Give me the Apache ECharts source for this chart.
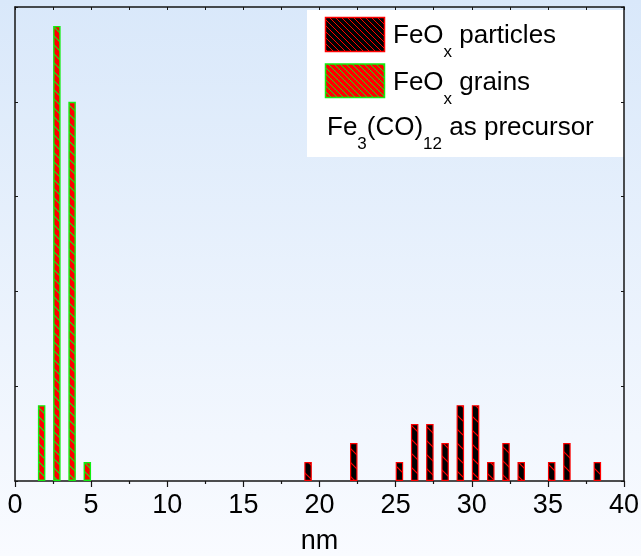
<!DOCTYPE html>
<html><head><meta charset="utf-8">
<script src="https://cdn.jsdelivr.net/npm/echarts@6/dist/echarts.min.js"></script>
<style>
html,body{margin:0;padding:0;}
body{background:linear-gradient(to bottom,#d9e8fa 0%,#f9fbff 100%);width:641px;height:556px;overflow:hidden}
#c{width:641px;height:556px}
</style></head><body><div id="c"></div>
<script>
// ---- data ----
const grainSizes = [1.75, 2.75, 3.75, 4.75];
const grainCounts = [4, 24, 20, 1];
const particleSizes = [19.25, 22.25, 25.25, 26.25, 27.25, 28.25, 29.25, 30.25, 31.25, 32.25, 33.25, 35.25, 36.25, 38.25];
const particleCounts = [1, 2, 1, 3, 3, 2, 4, 4, 1, 2, 1, 1, 2, 1];
const xTickLabels = ['0', '5', '10', '15', '20', '25', '30', '35', '40'];
const xName = 'nm';

const F = 'Liberation Sans, Arial, sans-serif';
function hatch(size, bg, fg, lw) {
  const c = document.createElement('canvas');
  c.width = size; c.height = size;
  const g = c.getContext('2d');
  g.fillStyle = bg; g.fillRect(0, 0, size, size);
  g.strokeStyle = fg; g.lineWidth = lw;
  g.beginPath();
  for (const o of [-size, 0, size]) { g.moveTo(o - 1, -1); g.lineTo(o + size + 1, size + 1); }
  g.stroke();
  return { image: c, repeat: 'repeat' };
}
const RED = '#ff0000', GREEN = '#11ee11', AX = '#151515';
const partFill = hatch(14, '#000000', RED, 1.2);
const grainFill = hatch(9, RED, GREEN, 1.2);
const partLeg = hatch(6, '#000000', RED, 1);
const grainLeg = hatch(6, RED, GREEN, 1);

const richS = {
  a: { fontSize: 26, fontFamily: F, lineHeight: 30, verticalAlign: 'top', color: '#000' },
  s: { fontSize: 17, fontFamily: F, lineHeight: 17, verticalAlign: 'top', padding: [21, 0, 0, 0], color: '#000' }
};

const baseX = {
  type: 'value', min: 0, max: 40, interval: 5,
  axisLine: { show: true, onZero: false, lineStyle: { color: AX, width: 1.5 } },
  splitLine: { show: false }, minorSplitLine: { show: false }
};
const baseY = {
  type: 'value', min: 0, max: 25, interval: 5,
  axisLine: { show: true, onZero: false, lineStyle: { color: AX, width: 1.5 } },
  axisTick: { show: true, inside: true, length: 3, lineStyle: { color: AX, width: 1 } },
  axisLabel: { show: false },
  splitLine: { show: false }
};

const chart = echarts.init(document.getElementById('c'), null, { renderer: 'canvas' });
chart.setOption({
  animation: false,
  backgroundColor: 'transparent',
  grid: { left: 15, top: 7, width: 609, height: 474, show: false, containLabel: false, outerBoundsMode: 'none' },
  xAxis: [
    Object.assign({}, baseX, {
      position: 'bottom',
      axisTick: { show: true, inside: false, length: 6, lineStyle: { color: AX, width: 1.2 } },
      minorTick: { show: true, splitNumber: 2, length: 3, lineStyle: { color: AX, width: 1.2 } },
      axisLabel: { color: '#000', fontSize: 27, fontFamily: F, margin: 11,
        formatter: v => xTickLabels[Math.round(v / 5)] },
      name: xName, nameLocation: 'middle', nameGap: 47,
      nameTextStyle: { color: '#000', fontSize: 27, fontFamily: F }
    }),
    Object.assign({}, baseX, {
      position: 'top',
      axisTick: { show: true, inside: true, length: 3, lineStyle: { color: AX, width: 1 } },
      minorTick: { show: true, splitNumber: 2, length: 3, lineStyle: { color: AX, width: 1 } },
      axisLabel: { show: false }
    })
  ],
  yAxis: [
    Object.assign({}, baseY, { position: 'left' }),
    Object.assign({}, baseY, { position: 'right' })
  ],
  series: [
    {
      type: 'bar', name: 'FeOx particles', xAxisIndex: 0, yAxisIndex: 0,
      barWidth: 7.5, barGap: '-100%',
      data: particleSizes.map((x, i) => [x, particleCounts[i]]),
      itemStyle: { color: partFill, borderColor: RED, borderWidth: 1.2 }
    },
    {
      type: 'bar', name: 'FeOx grains', xAxisIndex: 0, yAxisIndex: 0,
      barWidth: 7.5, barGap: '-100%',
      data: grainSizes.map((x, i) => [x, grainCounts[i]]),
      itemStyle: { color: grainFill, borderColor: GREEN, borderWidth: 1.4 }
    }
  ],
  graphic: [
    { type: 'rect', z: -10, shape: { x: 307, y: 10, width: 317, height: 147 }, style: { fill: '#ffffff' } },
    { type: 'rect', z: 50, shape: { x: 325.5, y: 17.5, width: 59, height: 34 }, style: { fill: partLeg, stroke: RED, lineWidth: 1.5 } },
    { type: 'rect', z: 50, shape: { x: 325.5, y: 64, width: 59, height: 33.5 }, style: { fill: grainLeg, stroke: GREEN, lineWidth: 1.5 } },
    { type: 'text', z: 50, x: 393, y: 23, style: { text: '{a|FeO}{s|x}{a| particles}', rich: richS, verticalAlign: 'top', align: 'left' } },
    { type: 'text', z: 50, x: 393, y: 70, style: { text: '{a|FeO}{s|x}{a| grains}', rich: richS, verticalAlign: 'top', align: 'left' } },
    { type: 'text', z: 50, x: 327, y: 115, style: { text: '{a|Fe}{s|3}{a|(CO)}{s|12}{a| as precursor}', rich: richS, verticalAlign: 'top', align: 'left' } }
  ]
});
</script>
</body></html>
